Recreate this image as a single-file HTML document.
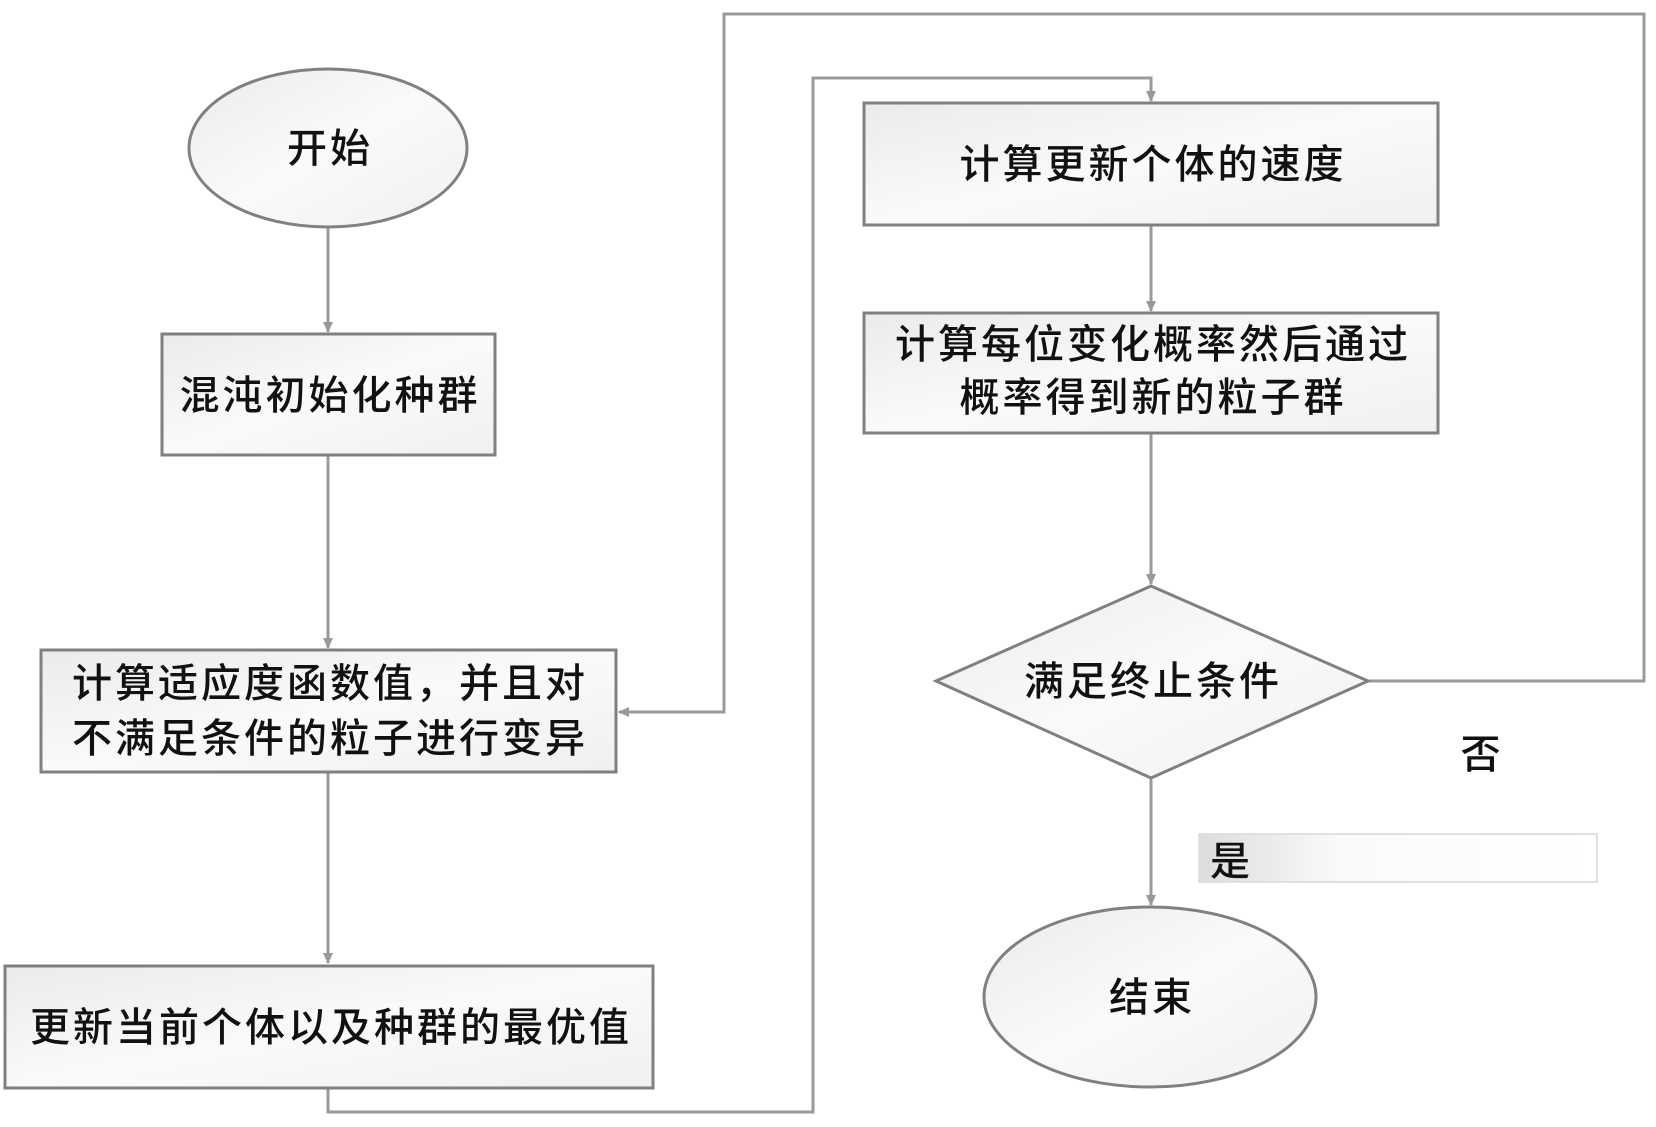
<!DOCTYPE html>
<html><head><meta charset="utf-8"><style>
html,body{margin:0;padding:0;background:#fff;}
svg text{font-family:"Liberation Sans","Noto Sans CJK SC","WenQuanYi Zen Hei",sans-serif;fill:#111;font-size:40px;font-weight:500;letter-spacing:3px;}
</style></head><body>
<svg width="1656" height="1122" viewBox="0 0 1656 1122" xmlns="http://www.w3.org/2000/svg">
<defs>
<linearGradient id="g" x1="0" y1="0" x2="1" y2="1">
<stop offset="0" stop-color="#ebebeb"/><stop offset="0.5" stop-color="#fafafa"/><stop offset="1" stop-color="#f0f0f0"/>
</linearGradient>
<linearGradient id="g2" x1="0" y1="0" x2="1" y2="0">
<stop offset="0" stop-color="#dcdcdc"/><stop offset="0.35" stop-color="#fafafa"/><stop offset="1" stop-color="#fff"/>
</linearGradient>
<marker id="a" markerWidth="12" markerHeight="12" refX="10" refY="6" orient="auto" markerUnits="userSpaceOnUse">
<path d="M0,1 L11,6 L0,11 Z" fill="#999"/>
</marker>
</defs>
<g stroke="#9a9a9a" stroke-width="3" fill="none">
<line x1="328" y1="227" x2="328" y2="332" marker-end="url(#a)"/>
<line x1="328" y1="455" x2="328" y2="648" marker-end="url(#a)"/>
<line x1="328" y1="772" x2="328" y2="963" marker-end="url(#a)"/>
<polyline points="328,1088 328,1112 813,1112 813,78 1151,78 1151,101" marker-end="url(#a)"/>
<line x1="1151" y1="225" x2="1151" y2="311" marker-end="url(#a)"/>
<line x1="1151" y1="433" x2="1151" y2="584" marker-end="url(#a)"/>
<line x1="1151" y1="778" x2="1151" y2="905" marker-end="url(#a)"/>
<polyline points="1368,681 1644,681 1644,14 724,14 724,712 619,712" marker-end="url(#a)"/>
</g>
<g stroke="#808080" stroke-width="3" fill="url(#g)">
<ellipse cx="328" cy="148" rx="139" ry="79"/>
<rect x="162" y="334" width="333" height="121"/>
<rect x="41" y="650" width="575" height="122"/>
<rect x="5" y="966" width="648" height="122"/>
<rect x="864" y="103" width="574" height="122"/>
<rect x="864" y="313" width="574" height="120"/>
<polygon points="936,681 1151,586 1368,681 1151,778"/>
<ellipse cx="1150" cy="997" rx="166" ry="90"/>
</g>
<rect x="1199" y="834" width="398" height="48" fill="url(#g2)" stroke="#e0e0e0" stroke-width="2"/>
<g text-anchor="middle">
<text x="330" y="162">开始</text>
<text x="330" y="409">混沌初始化种群</text>
<text x="330" y="697">计算适应度函数值，并且对</text>
<text x="330" y="752">不满足条件的粒子进行变异</text>
<text x="331" y="1041">更新当前个体以及种群的最优值</text>
<text x="1153" y="178">计算更新个体的速度</text>
<text x="1153" y="358">计算每位变化概率然后通过</text>
<text x="1153" y="411">概率得到新的粒子群</text>
<text x="1153" y="695">满足终止条件</text>
<text x="1152" y="1011">结束</text>
<text x="1482" y="768">否</text>
</g>
<text x="1210" y="875">是</text>
</svg>
</body></html>
